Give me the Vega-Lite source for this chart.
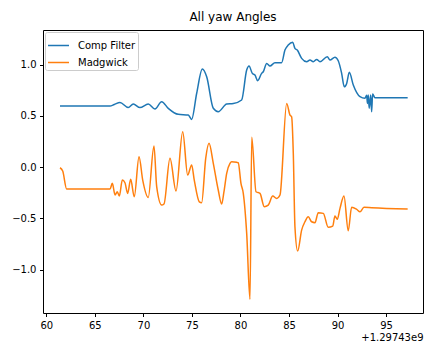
{
  "$schema": "https://vega.github.io/schema/vega-lite/v6.json",
  "width": 380,
  "height": 283,
  "autosize": "none",
  "padding": {"left": 43, "top": 30, "right": 2, "bottom": 33},
  "config": {
    "font": "DejaVu Sans",
    "view": {"stroke": "#000", "strokeWidth": 1},
    "axis": {"grid": false, "domain": false, "tickColor": "#000", "tickSize": 3.5, "labelFontSize": 10, "labelColor": "#000", "labelPadding": 3.5, "titleColor": "#000"}
  },
  "title": {"text": "All yaw Angles", "fontSize": 12, "fontWeight": "normal", "offset": 6, "color": "#000"},
  "data": {"values": [
    {"s":"Comp Filter","t":61.41,"v":0.595},
    {"s":"Comp Filter","t":66.56,"v":0.595},
    {"s":"Comp Filter","t":67.0,"v":0.61},
    {"s":"Comp Filter","t":67.59,"v":0.63},
    {"s":"Comp Filter","t":68.44,"v":0.58},
    {"s":"Comp Filter","t":68.96,"v":0.615},
    {"s":"Comp Filter","t":69.65,"v":0.58},
    {"s":"Comp Filter","t":70.5,"v":0.615},
    {"s":"Comp Filter","t":71.19,"v":0.566},
    {"s":"Comp Filter","t":71.88,"v":0.637},
    {"s":"Comp Filter","t":72.56,"v":0.573},
    {"s":"Comp Filter","t":73.59,"v":0.514},
    {"s":"Comp Filter","t":74.62,"v":0.507},
    {"s":"Comp Filter","t":74.97,"v":0.465},
    {"s":"Comp Filter","t":75.49,"v":0.72},
    {"s":"Comp Filter","t":76.07,"v":0.956},
    {"s":"Comp Filter","t":76.52,"v":0.88},
    {"s":"Comp Filter","t":77.2,"v":0.573},
    {"s":"Comp Filter","t":77.71,"v":0.54},
    {"s":"Comp Filter","t":78.58,"v":0.615},
    {"s":"Comp Filter","t":79.26,"v":0.62},
    {"s":"Comp Filter","t":80.12,"v":0.654},
    {"s":"Comp Filter","t":80.64,"v":0.946},
    {"s":"Comp Filter","t":80.88,"v":0.985},
    {"s":"Comp Filter","t":81.22,"v":0.914},
    {"s":"Comp Filter","t":81.49,"v":0.898},
    {"s":"Comp Filter","t":81.77,"v":0.842},
    {"s":"Comp Filter","t":82.18,"v":0.914},
    {"s":"Comp Filter","t":82.35,"v":0.93},
    {"s":"Comp Filter","t":82.7,"v":1.01},
    {"s":"Comp Filter","t":83.04,"v":0.985},
    {"s":"Comp Filter","t":83.55,"v":1.018},
    {"s":"Comp Filter","t":84.24,"v":1.018},
    {"s":"Comp Filter","t":84.58,"v":1.141},
    {"s":"Comp Filter","t":84.92,"v":1.19},
    {"s":"Comp Filter","t":85.38,"v":1.217},
    {"s":"Comp Filter","t":85.61,"v":1.158},
    {"s":"Comp Filter","t":85.85,"v":1.141},
    {"s":"Comp Filter","t":86.3,"v":1.06},
    {"s":"Comp Filter","t":86.82,"v":1.027},
    {"s":"Comp Filter","t":87.16,"v":1.044},
    {"s":"Comp Filter","t":87.5,"v":1.027},
    {"s":"Comp Filter","t":87.85,"v":1.05},
    {"s":"Comp Filter","t":88.19,"v":1.027},
    {"s":"Comp Filter","t":88.94,"v":1.076},
    {"s":"Comp Filter","t":89.22,"v":1.044},
    {"s":"Comp Filter","t":89.73,"v":1.07},
    {"s":"Comp Filter","t":90.07,"v":1.037},
    {"s":"Comp Filter","t":90.42,"v":0.914},
    {"s":"Comp Filter","t":90.69,"v":0.783},
    {"s":"Comp Filter","t":90.94,"v":0.816},
    {"s":"Comp Filter","t":91.21,"v":0.924},
    {"s":"Comp Filter","t":91.62,"v":0.8},
    {"s":"Comp Filter","t":92.31,"v":0.686},
    {"s":"Comp Filter","t":92.82,"v":0.67},
    {"s":"Comp Filter","t":93.0,"v":0.7},
    {"s":"Comp Filter","t":93.08,"v":0.62},
    {"s":"Comp Filter","t":93.16,"v":0.702},
    {"s":"Comp Filter","t":93.26,"v":0.573},
    {"s":"Comp Filter","t":93.41,"v":0.702},
    {"s":"Comp Filter","t":93.51,"v":0.54},
    {"s":"Comp Filter","t":93.61,"v":0.712},
    {"s":"Comp Filter","t":93.85,"v":0.676},
    {"s":"Comp Filter","t":97.22,"v":0.676},
    {"s":"Madgwick","t":61.41,"v":-0.007},
    {"s":"Madgwick","t":61.69,"v":-0.039},
    {"s":"Madgwick","t":62.1,"v":-0.215},
    {"s":"Madgwick","t":66.56,"v":-0.215},
    {"s":"Madgwick","t":66.8,"v":-0.159},
    {"s":"Madgwick","t":67.08,"v":-0.273},
    {"s":"Madgwick","t":67.31,"v":-0.241},
    {"s":"Madgwick","t":67.52,"v":-0.283},
    {"s":"Madgwick","t":67.83,"v":-0.127},
    {"s":"Madgwick","t":68.1,"v":-0.153},
    {"s":"Madgwick","t":68.38,"v":-0.257},
    {"s":"Madgwick","t":68.69,"v":-0.12},
    {"s":"Madgwick","t":69.06,"v":-0.29},
    {"s":"Madgwick","t":69.55,"v":0.1},
    {"s":"Madgwick","t":69.93,"v":-0.127},
    {"s":"Madgwick","t":70.5,"v":-0.296},
    {"s":"Madgwick","t":71.09,"v":0.205},
    {"s":"Madgwick","t":71.37,"v":-0.192},
    {"s":"Madgwick","t":71.88,"v":-0.371},
    {"s":"Madgwick","t":72.12,"v":-0.361},
    {"s":"Madgwick","t":72.74,"v":0.085},
    {"s":"Madgwick","t":73.36,"v":-0.234},
    {"s":"Madgwick","t":74.05,"v":0.344},
    {"s":"Madgwick","t":74.56,"v":-0.078},
    {"s":"Madgwick","t":74.97,"v":0.02},
    {"s":"Madgwick","t":75.24,"v":-0.127},
    {"s":"Madgwick","t":75.76,"v":-0.339},
    {"s":"Madgwick","t":76.0,"v":-0.348},
    {"s":"Madgwick","t":76.42,"v":0.085},
    {"s":"Madgwick","t":76.76,"v":0.231},
    {"s":"Madgwick","t":77.2,"v":0.036},
    {"s":"Madgwick","t":77.71,"v":-0.224},
    {"s":"Madgwick","t":78.06,"v":-0.361},
    {"s":"Madgwick","t":78.3,"v":-0.241},
    {"s":"Madgwick","t":78.58,"v":-0.061},
    {"s":"Madgwick","t":78.92,"v":0.036},
    {"s":"Madgwick","t":79.09,"v":0.052},
    {"s":"Madgwick","t":79.61,"v":0.046},
    {"s":"Madgwick","t":79.77,"v":0.042},
    {"s":"Madgwick","t":80.05,"v":-0.159},
    {"s":"Madgwick","t":80.29,"v":-0.257},
    {"s":"Madgwick","t":80.64,"v":-0.647},
    {"s":"Madgwick","t":80.98,"v":-1.29},
    {"s":"Madgwick","t":81.16,"v":0.29},
    {"s":"Madgwick","t":81.6,"v":-0.241},
    {"s":"Madgwick","t":82.01,"v":-0.257},
    {"s":"Madgwick","t":82.45,"v":-0.387},
    {"s":"Madgwick","t":82.86,"v":-0.371},
    {"s":"Madgwick","t":83.32,"v":-0.283},
    {"s":"Madgwick","t":83.73,"v":-0.306},
    {"s":"Madgwick","t":84.07,"v":-0.273},
    {"s":"Madgwick","t":84.76,"v":0.62},
    {"s":"Madgwick","t":85.1,"v":0.507},
    {"s":"Madgwick","t":85.27,"v":0.49},
    {"s":"Madgwick","t":85.44,"v":0.134},
    {"s":"Madgwick","t":85.61,"v":-0.583},
    {"s":"Madgwick","t":85.89,"v":-0.82},
    {"s":"Madgwick","t":86.3,"v":-0.615},
    {"s":"Madgwick","t":86.64,"v":-0.534},
    {"s":"Madgwick","t":86.98,"v":-0.485},
    {"s":"Madgwick","t":87.33,"v":-0.534},
    {"s":"Madgwick","t":87.67,"v":-0.543},
    {"s":"Madgwick","t":88.01,"v":-0.446},
    {"s":"Madgwick","t":88.53,"v":-0.452},
    {"s":"Madgwick","t":89.04,"v":-0.588},
    {"s":"Madgwick","t":89.5,"v":-0.576},
    {"s":"Madgwick","t":89.73,"v":-0.478},
    {"s":"Madgwick","t":89.97,"v":-0.51},
    {"s":"Madgwick","t":90.25,"v":-0.403},
    {"s":"Madgwick","t":90.66,"v":-0.283},
    {"s":"Madgwick","t":91.1,"v":-0.621},
    {"s":"Madgwick","t":91.45,"v":-0.393},
    {"s":"Madgwick","t":91.97,"v":-0.413},
    {"s":"Madgwick","t":92.31,"v":-0.436},
    {"s":"Madgwick","t":92.72,"v":-0.393},
    {"s":"Madgwick","t":93.51,"v":-0.397},
    {"s":"Madgwick","t":97.22,"v":-0.41}
  ]},
  "mark": {"type": "line", "strokeWidth": 1.5, "clip": true, "interpolate": "monotone"},
  "encoding": {
    "x": {"field": "t", "type": "quantitative",
      "scale": {"domain": [59.66, 98.8], "nice": false, "zero": false},
      "axis": {"values": [60, 65, 70, 75, 80, 85, 90, 95], "title": "+1.29743e9", "titleAnchor": "end", "titleAlign": "right", "titleFontSize": 10, "titleFontWeight": "normal", "titlePadding": 2}},
    "y": {"field": "v", "type": "quantitative",
      "scale": {"domain": [-1.424, 1.337], "nice": false, "zero": false},
      "axis": {"values": [-1, -0.5, 0, 0.5, 1], "title": null, "labelExpr": "replace(format(datum.value, '.1f'), '-', '\u2212')"}},
    "color": {"field": "s", "type": "nominal",
      "scale": {"domain": ["Comp Filter", "Madgwick"], "range": ["#1f77b4", "#ff7f0e"]},
      "legend": {"title": null, "orient": "top-left", "offset": 2, "symbolType": "stroke", "symbolSize": 440, "symbolStrokeWidth": 1.5, "labelFontSize": 10, "labelColor": "#000", "labelOffset": 8, "rowPadding": -4, "padding": 2, "strokeColor": "#ccc", "fillColor": "rgba(255,255,255,0.8)", "cornerRadius": 2}}
  }
}
